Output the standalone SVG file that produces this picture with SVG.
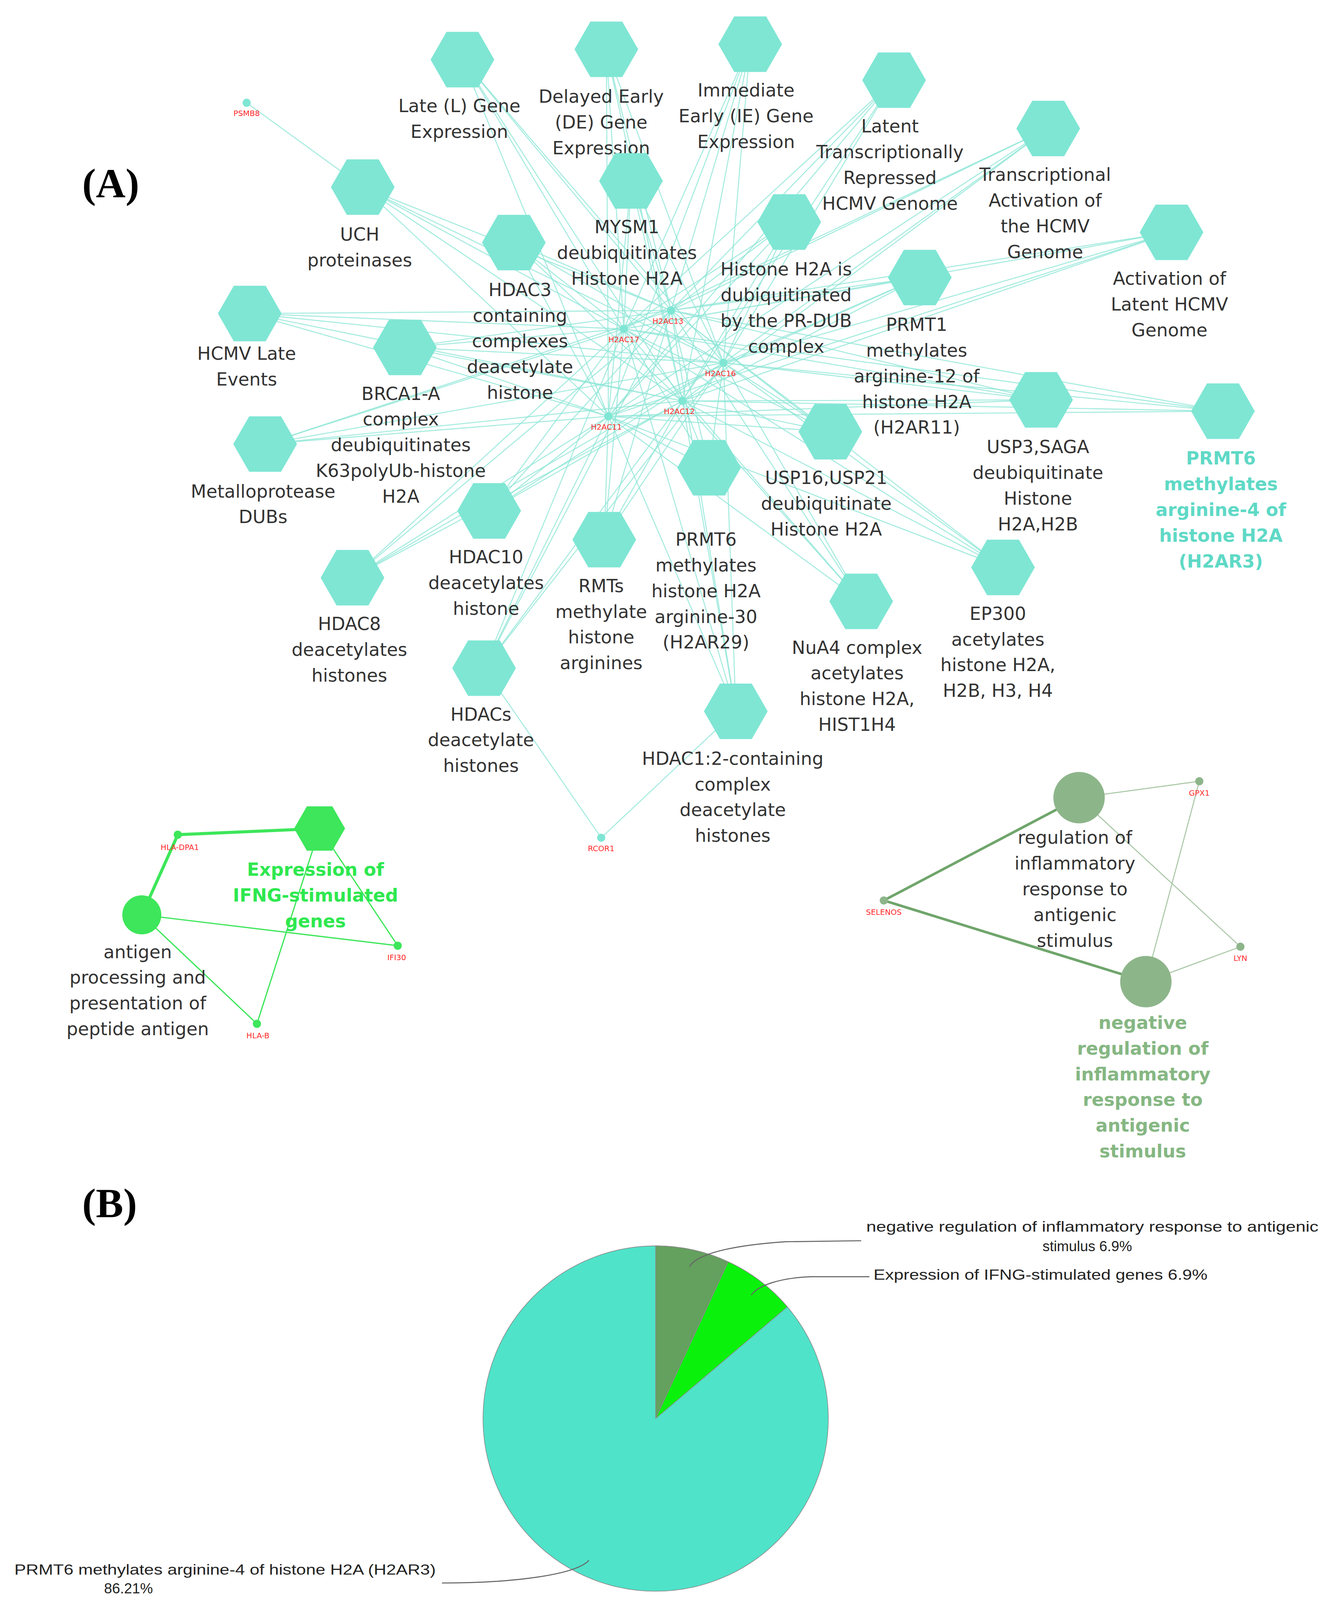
<svg xmlns="http://www.w3.org/2000/svg" xmlns:xlink="http://www.w3.org/1999/xlink" width="3421" height="4144" viewBox="0 0 3421 4144">
<style>
.lb{font-family:"DejaVu Sans",sans-serif;font-size:17.5px;fill:#333;text-anchor:middle}
.hl{font-family:"DejaVu Sans",sans-serif;font-size:17.5px;font-weight:bold;fill:#5fd9c6;text-anchor:middle}
.gl{font-family:"DejaVu Sans",sans-serif;font-size:17.5px;font-weight:bold;fill:#2ee84f;text-anchor:middle}
.ol{font-family:"DejaVu Sans",sans-serif;font-size:17.5px;font-weight:bold;fill:#86b783;text-anchor:middle}
.gn{font-family:"DejaVu Sans",sans-serif;font-size:7.5px;fill:#ff2a2a;text-anchor:middle}
.pl{font-family:"Liberation Sans",sans-serif;font-size:14px;fill:#222}
.big{font-family:"Liberation Serif",serif;font-size:40px;font-weight:bold;fill:#000}
.hex{fill:#7fe6d4}
.e{fill:none;stroke:#8fe6d7;stroke-width:1;stroke-opacity:0.8}
.tdot{fill:#7fe6d4}
.lead{fill:none;stroke:#666;stroke-width:1}
</style>
<defs>
<path id="hx" d="M-31,0 L-15.5,-27 L15.5,-27 L31,0 L15.5,27 L-15.5,27Z"/>
</defs>
<rect width="3421" height="4144" fill="#fff"/>
<g transform="scale(2.6315)">
<text class="big" x="80" y="192">(A)</text>
<text class="big" x="80" y="1184">(B)</text>

<g id="connectors">
<path class="e" d="M607,320L450,58M607,320L590,48M607,320L730,43M607,320L870,78M607,320L1020,125M607,320L1140,226M607,320L353,182M607,320L614,176M607,320L768,216M607,320L500,236M607,320L895,270M607,320L243,305M607,320L394,338M607,320L1013,389M607,320L1190,400M607,320L258,432M607,320L808,420M607,320L690,455M607,320L476,497M607,320L588,525M607,320L343,562M607,320L976,552M607,320L838,585M607,320L471,650M607,320L716,692"/>
<path class="e" d="M653,302L450,58M653,302L590,48M653,302L730,43M653,302L870,78M653,302L1020,125M653,302L1140,226M653,302L353,182M653,302L614,176M653,302L768,216M653,302L500,236M653,302L895,270M653,302L243,305M653,302L394,338M653,302L1013,389M653,302L1190,400M653,302L258,432M653,302L808,420M653,302L690,455M653,302L476,497M653,302L588,525M653,302L343,562M653,302L976,552M653,302L838,585M653,302L471,650M653,302L716,692"/>
<path class="e" d="M704,353L450,58M704,353L590,48M704,353L730,43M704,353L870,78M704,353L1020,125M704,353L1140,226M704,353L353,182M704,353L614,176M704,353L768,216M704,353L500,236M704,353L895,270M704,353L243,305M704,353L394,338M704,353L1013,389M704,353L1190,400M704,353L258,432M704,353L808,420M704,353L690,455M704,353L476,497M704,353L588,525M704,353L343,562M704,353L976,552M704,353L838,585M704,353L471,650M704,353L716,692"/>
<path class="e" d="M664,390L450,58M664,390L590,48M664,390L730,43M664,390L870,78M664,390L1020,125M664,390L1140,226M664,390L353,182M664,390L614,176M664,390L768,216M664,390L500,236M664,390L895,270M664,390L243,305M664,390L394,338M664,390L1013,389M664,390L1190,400M664,390L258,432M664,390L808,420M664,390L690,455M664,390L476,497M664,390L588,525M664,390L343,562M664,390L976,552M664,390L838,585M664,390L471,650M664,390L716,692"/>
<path class="e" d="M592,405L450,58M592,405L590,48M592,405L730,43M592,405L870,78M592,405L1020,125M592,405L1140,226M592,405L353,182M592,405L614,176M592,405L768,216M592,405L500,236M592,405L895,270M592,405L243,305M592,405L394,338M592,405L1013,389M592,405L1190,400M592,405L258,432M592,405L808,420M592,405L690,455M592,405L476,497M592,405L588,525M592,405L343,562M592,405L976,552M592,405L838,585M592,405L471,650M592,405L716,692"/>
<path class="e" d="M240,100L353,182M585,815L471,650M585,815L716,692"/>
<g fill="none" stroke="#3de65a">
<path d="M173,812L311,806M173,812L138,890" stroke-width="3"/>
<path d="M138,890L387,920M311,806L387,920M311,806L250,996M138,890L250,996" stroke-width="1.2"/>
</g>
<g fill="none" stroke="#6fa56b">
<path d="M860,876L1050,776M860,876L1115,955" stroke-width="2.5"/>
<path d="M1050,776L1167,760M1050,776L1207,921M1167,760L1115,955M1207,921L1115,955" stroke-width="1" stroke="#a9c7a6"/>
</g>
</g>

<g id="n1"><use xlink:href="#hx" class="hex" x="450" y="58"/><text class="lb" x="447" y="109"><tspan x="447">Late (L) Gene</tspan><tspan x="447" dy="25">Expression</tspan></text></g>
<g id="n2"><use xlink:href="#hx" class="hex" x="590" y="48"/><text class="lb" y="100"><tspan x="585">Delayed Early</tspan><tspan x="585" dy="25">(DE) Gene</tspan><tspan x="585" dy="25">Expression</tspan></text></g>
<g id="n3"><use xlink:href="#hx" class="hex" x="730" y="43"/><text class="lb" y="94"><tspan x="726">Immediate</tspan><tspan x="726" dy="25">Early (IE) Gene</tspan><tspan x="726" dy="25">Expression</tspan></text></g>
<g id="n4"><use xlink:href="#hx" class="hex" x="870" y="78"/><text class="lb" y="129"><tspan x="866">Latent</tspan><tspan x="866" dy="25">Transcriptionally</tspan><tspan x="866" dy="25">Repressed</tspan><tspan x="866" dy="25">HCMV Genome</tspan></text></g>
<g id="n5"><use xlink:href="#hx" class="hex" x="1020" y="125"/><text class="lb" y="176"><tspan x="1017">Transcriptional</tspan><tspan x="1017" dy="25">Activation of</tspan><tspan x="1017" dy="25">the HCMV</tspan><tspan x="1017" dy="25">Genome</tspan></text></g>
<g id="n6"><use xlink:href="#hx" class="hex" x="1140" y="226"/><text class="lb" y="277"><tspan x="1138">Activation of</tspan><tspan x="1138" dy="25">Latent HCMV</tspan><tspan x="1138" dy="25">Genome</tspan></text></g>
<g id="n7"><use xlink:href="#hx" class="hex" x="353" y="182"/><text class="lb" y="234"><tspan x="350">UCH</tspan><tspan x="350" dy="25">proteinases</tspan></text></g>
<g id="n8"><use xlink:href="#hx" class="hex" x="614" y="176"/><text class="lb" y="227"><tspan x="610">MYSM1</tspan><tspan x="610" dy="25">deubiquitinates</tspan><tspan x="610" dy="25">Histone H2A</tspan></text></g>
<g id="n9"><use xlink:href="#hx" class="hex" x="768" y="216"/><text class="lb" y="268"><tspan x="765">Histone H2A is</tspan><tspan x="765" dy="25">dubiquitinated</tspan><tspan x="765" dy="25">by the PR-DUB</tspan><tspan x="765" dy="25">complex</tspan></text></g>
<g id="n10"><use xlink:href="#hx" class="hex" x="500" y="236"/><text class="lb" y="288"><tspan x="506">HDAC3</tspan><tspan x="506" dy="25">containing</tspan><tspan x="506" dy="25">complexes</tspan><tspan x="506" dy="25">deacetylate</tspan><tspan x="506" dy="25">histone</tspan></text></g>
<g id="n11"><use xlink:href="#hx" class="hex" x="895" y="270"/><text class="lb" y="322"><tspan x="892">PRMT1</tspan><tspan x="892" dy="25">methylates</tspan><tspan x="892" dy="25">arginine-12 of</tspan><tspan x="892" dy="25">histone H2A</tspan><tspan x="892" dy="25">(H2AR11)</tspan></text></g>
<g id="n12"><use xlink:href="#hx" class="hex" x="243" y="305"/><text class="lb" y="350"><tspan x="240">HCMV Late</tspan><tspan x="240" dy="25">Events</tspan></text></g>
<g id="n13"><use xlink:href="#hx" class="hex" x="394" y="338"/><text class="lb" y="389"><tspan x="390">BRCA1-A</tspan><tspan x="390" dy="25">complex</tspan><tspan x="390" dy="25">deubiquitinates</tspan><tspan x="390" dy="25">K63polyUb-histone</tspan><tspan x="390" dy="25">H2A</tspan></text></g>
<g id="n14"><use xlink:href="#hx" class="hex" x="1013" y="389"/><text class="lb" y="441"><tspan x="1010">USP3,SAGA</tspan><tspan x="1010" dy="25">deubiquitinate</tspan><tspan x="1010" dy="25">Histone</tspan><tspan x="1010" dy="25">H2A,H2B</tspan></text></g>
<g id="n15"><use xlink:href="#hx" class="hex" x="1190" y="400"/><text class="hl" y="452"><tspan x="1188">PRMT6</tspan><tspan x="1188" dy="25">methylates</tspan><tspan x="1188" dy="25">arginine-4 of</tspan><tspan x="1188" dy="25">histone H2A</tspan><tspan x="1188" dy="25">(H2AR3)</tspan></text></g>
<g id="n16"><use xlink:href="#hx" class="hex" x="258" y="432"/><text class="lb" y="484"><tspan x="256">Metalloprotease</tspan><tspan x="256" dy="25">DUBs</tspan></text></g>
<g id="n17"><use xlink:href="#hx" class="hex" x="808" y="420"/><text class="lb" y="471"><tspan x="804">USP16,USP21</tspan><tspan x="804" dy="25">deubiquitinate</tspan><tspan x="804" dy="25">Histone H2A</tspan></text></g>
<g id="n18"><use xlink:href="#hx" class="hex" x="690" y="455"/><text class="lb" y="531"><tspan x="687">PRMT6</tspan><tspan x="687" dy="25">methylates</tspan><tspan x="687" dy="25">histone H2A</tspan><tspan x="687" dy="25">arginine-30</tspan><tspan x="687" dy="25">(H2AR29)</tspan></text></g>
<g id="n19"><use xlink:href="#hx" class="hex" x="476" y="497"/><text class="lb" y="548"><tspan x="473">HDAC10</tspan><tspan x="473" dy="25">deacetylates</tspan><tspan x="473" dy="25">histone</tspan></text></g>
<g id="n20"><use xlink:href="#hx" class="hex" x="588" y="525"/><text class="lb" y="576"><tspan x="585">RMTs</tspan><tspan x="585" dy="25">methylate</tspan><tspan x="585" dy="25">histone</tspan><tspan x="585" dy="25">arginines</tspan></text></g>
<g id="n21"><use xlink:href="#hx" class="hex" x="343" y="562"/><text class="lb" y="613"><tspan x="340">HDAC8</tspan><tspan x="340" dy="25">deacetylates</tspan><tspan x="340" dy="25">histones</tspan></text></g>
<g id="n22"><use xlink:href="#hx" class="hex" x="976" y="552"/><text class="lb" y="603"><tspan x="971">EP300</tspan><tspan x="971" dy="25">acetylates</tspan><tspan x="971" dy="25">histone H2A,</tspan><tspan x="971" dy="25">H2B, H3, H4</tspan></text></g>
<g id="n23"><use xlink:href="#hx" class="hex" x="838" y="585"/><text class="lb" y="636"><tspan x="834">NuA4 complex</tspan><tspan x="834" dy="25">acetylates</tspan><tspan x="834" dy="25">histone H2A,</tspan><tspan x="834" dy="25">HIST1H4</tspan></text></g>
<g id="n24"><use xlink:href="#hx" class="hex" x="471" y="650"/><text class="lb" y="701"><tspan x="468">HDACs</tspan><tspan x="468" dy="25">deacetylate</tspan><tspan x="468" dy="25">histones</tspan></text></g>
<g id="n25"><use xlink:href="#hx" class="hex" x="716" y="692"/><text class="lb" y="744"><tspan x="713">HDAC1:2-containing</tspan><tspan x="713" dy="25">complex</tspan><tspan x="713" dy="25">deacetylate</tspan><tspan x="713" dy="25">histones</tspan></text></g>

<g id="g_h2ac17"><circle class="tdot" cx="607" cy="320" r="4"/><text class="gn" x="607" y="333">H2AC17</text></g>
<g id="g_h2ac13"><circle class="tdot" cx="653" cy="302" r="4"/><text class="gn" x="650" y="315">H2AC13</text></g>
<g id="g_h2ac16"><circle class="tdot" cx="704" cy="353" r="4"/><text class="gn" x="701" y="366">H2AC16</text></g>
<g id="g_h2ac12"><circle class="tdot" cx="664" cy="390" r="4"/><text class="gn" x="661" y="403">H2AC12</text></g>
<g id="g_h2ac11"><circle class="tdot" cx="592" cy="405" r="4"/><text class="gn" x="590" y="418">H2AC11</text></g>
<g id="g_psmb8"><circle class="tdot" cx="240" cy="100" r="4"/><text class="gn" x="240" y="113">PSMB8</text></g>
<g id="g_rcor1"><circle class="tdot" cx="585" cy="815" r="4"/><text class="gn" x="585" y="828">RCOR1</text></g>

<g id="ifng"><use xlink:href="#hx" x="311" y="806" fill="#3de65a" transform="translate(311,806) scale(0.8) translate(-311,-806)"/><text class="gl" y="852"><tspan x="307">Expression of</tspan><tspan x="307" dy="25">IFNG-stimulated</tspan><tspan x="307" dy="25">genes</tspan></text></g>
<g id="antigen"><circle cx="138" cy="890" r="19" fill="#3de65a"/><text class="lb" y="932"><tspan x="134">antigen</tspan><tspan x="134" dy="25">processing and</tspan><tspan x="134" dy="25">presentation of</tspan><tspan x="134" dy="25">peptide antigen</tspan></text></g>
<g id="g_hladpa1"><circle cx="173" cy="812" r="4" fill="#3de65a"/><text class="gn" x="175" y="827">HLA-DPA1</text></g>
<g id="g_ifi30"><circle cx="387" cy="920" r="4" fill="#3de65a"/><text class="gn" x="386" y="934">IFI30</text></g>
<g id="g_hlab"><circle cx="250" cy="996" r="4" fill="#3de65a"/><text class="gn" x="251" y="1010">HLA-B</text></g>

<g id="reg"><circle cx="1050" cy="776" r="25" fill="#8db58a"/><text class="lb" y="821"><tspan x="1046">regulation of</tspan><tspan x="1046" dy="25">inflammatory</tspan><tspan x="1046" dy="25">response to</tspan><tspan x="1046" dy="25">antigenic</tspan><tspan x="1046" dy="25">stimulus</tspan></text></g>
<g id="negreg"><circle cx="1115" cy="955" r="25" fill="#8db58a"/><text class="ol" y="1001"><tspan x="1112">negative</tspan><tspan x="1112" dy="25">regulation of</tspan><tspan x="1112" dy="25">inflammatory</tspan><tspan x="1112" dy="25">response to</tspan><tspan x="1112" dy="25">antigenic</tspan><tspan x="1112" dy="25">stimulus</tspan></text></g>
<g id="g_gpx1"><circle cx="1167" cy="760" r="4" fill="#8db58a"/><text class="gn" x="1167" y="774">GPX1</text></g>
<g id="g_selenos"><circle cx="860" cy="876" r="4" fill="#8db58a"/><text class="gn" x="860" y="890">SELENOS</text></g>
<g id="g_lyn"><circle cx="1207" cy="921" r="4" fill="#8db58a"/><text class="gn" x="1207" y="935">LYN</text></g>

<g id="pie" stroke="#8a8a8a" stroke-width="0.6">
<circle cx="638" cy="1380" r="168" fill="#4fe3c9"/>
<path d="M638,1380L638,1212A168,168 0 0 1 708.6,1227.5Z" fill="#64a05e"/>
<path d="M638,1380L708.6,1227.5A168,168 0 0 1 766.1,1271.3Z" fill="#0af20c"/>
</g>
<g id="pielabels">
<path class="lead" d="M838,1207L764,1208C720,1211 680,1218 671,1232"/>
<path class="lead" d="M846,1242L790,1242C760,1243 738,1250 731,1260"/>
<path class="lead" d="M430,1540C500,1540 560,1532 573,1518"/>
<text class="pl" x="843" y="1198" textLength="440" lengthAdjust="spacingAndGlyphs">negative regulation of inflammatory response to antigenic</text>
<text class="pl" x="1058" y="1217" text-anchor="middle">stimulus 6.9%</text>
<text class="pl" x="850" y="1245" textLength="325" lengthAdjust="spacingAndGlyphs">Expression of IFNG-stimulated genes 6.9%</text>
<text class="pl" x="14" y="1532" textLength="410" lengthAdjust="spacingAndGlyphs">PRMT6 methylates arginine-4 of histone H2A (H2AR3)</text>
<text class="pl" x="125" y="1550" text-anchor="middle">86.21%</text>
</g>
</g>
</svg>
